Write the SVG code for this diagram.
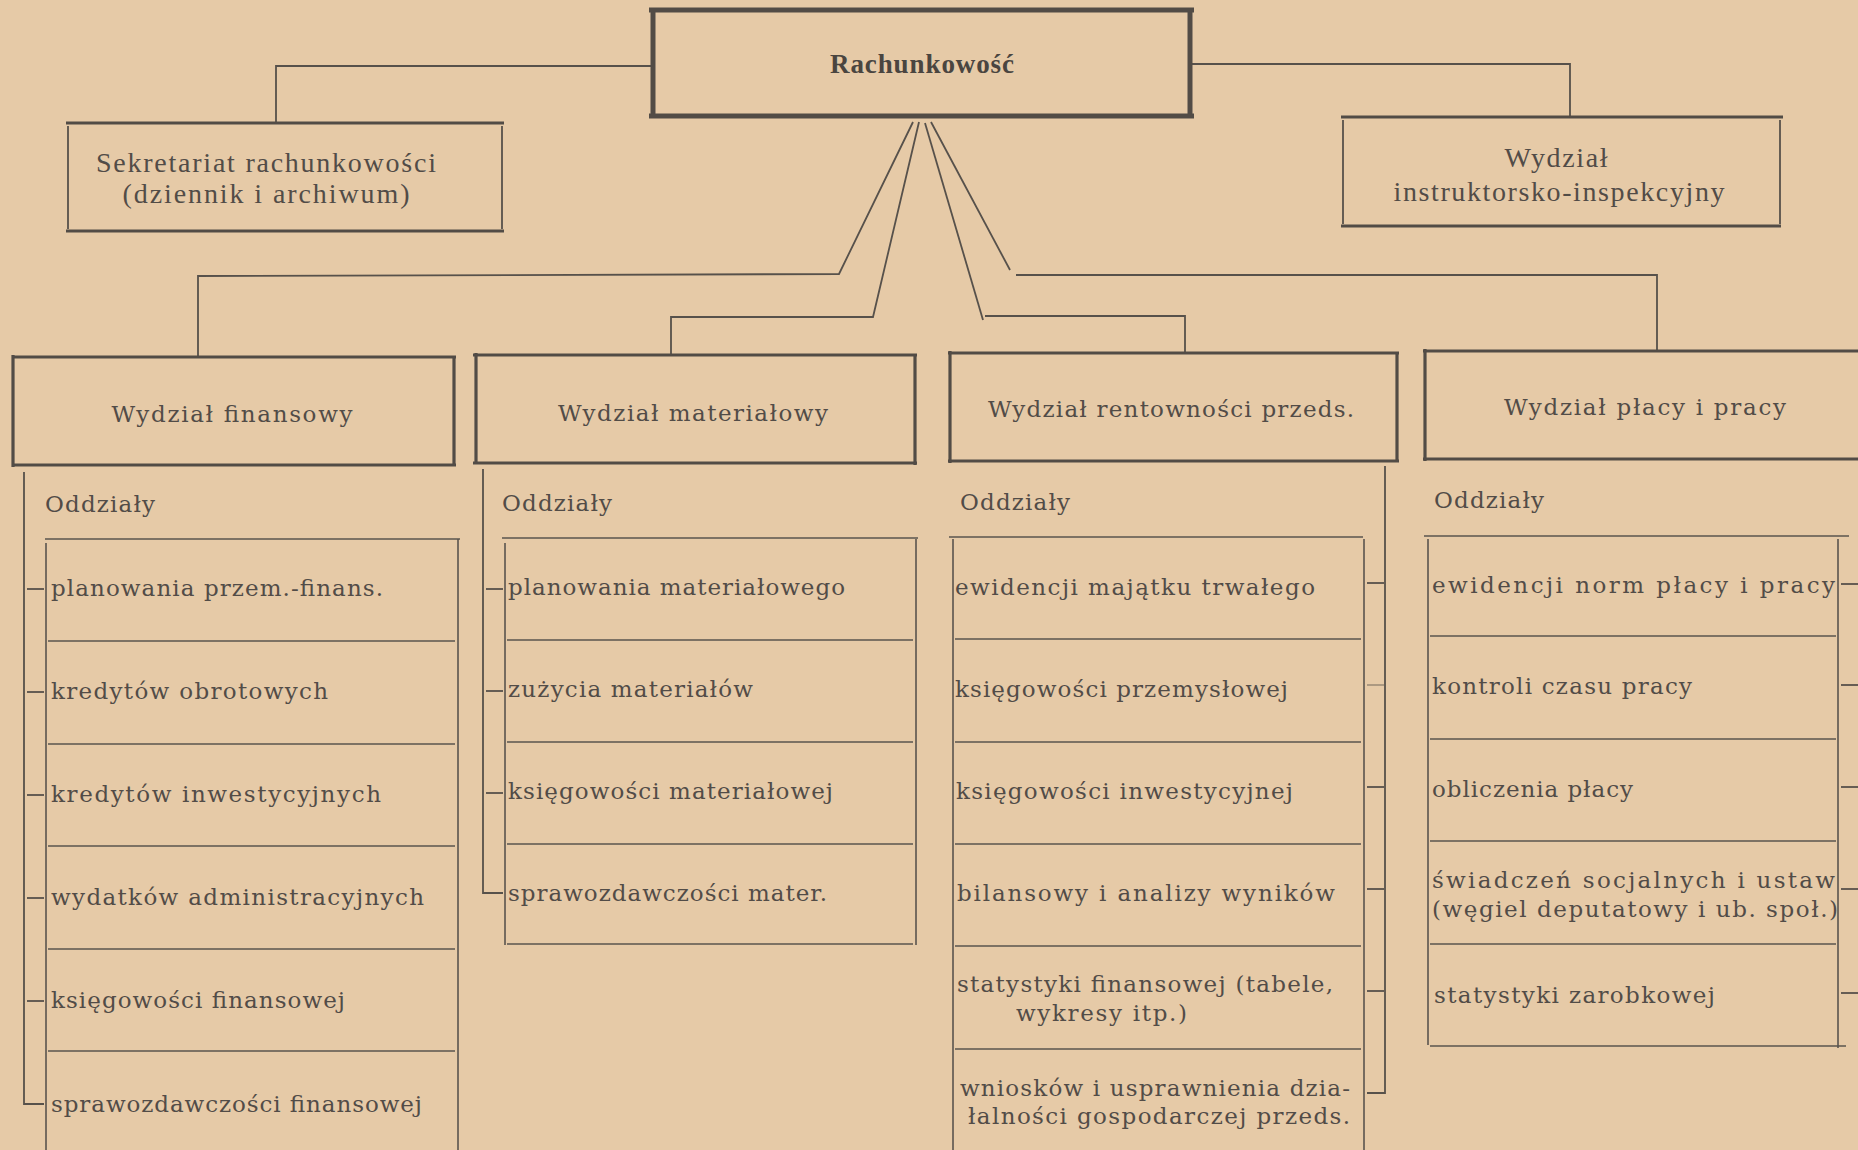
<svg xmlns="http://www.w3.org/2000/svg" width="1858" height="1150" viewBox="0 0 1858 1150">
<style>
.bg{fill:#e6caa7}
.ln{stroke:#57514b;stroke-width:1.8;fill:none}
.tl{stroke:#5a544e;stroke-width:1.6;fill:none}
.bx{stroke:#524c46;stroke-width:3.2;fill:none}
.bxh{stroke:#524c46;stroke-width:5;fill:none}
.t{font-family:"DejaVu Serif","Liberation Serif",serif;font-size:23px;fill:#524c47}
.s{font-family:"Liberation Serif","DejaVu Serif",serif;font-size:28px;fill:#524c47}
.h{font-family:"Liberation Serif","DejaVu Serif",serif;font-size:27px;font-weight:bold;fill:#4a4540}
.c{text-anchor:middle}
</style>
<rect class="bg" x="0" y="0" width="1858" height="1150"/>

<g id="connectors">
  <polyline class="ln" points="653,66 276,66 276,122"/>
  <polyline class="ln" points="1191,64 1570,64 1570,116"/>
  <polyline class="ln" points="913,122 839,274 198,276 198,356"/>
  <polyline class="ln" points="919,122 873,317 671,317 671,354"/>
  <polyline class="ln" points="925,123 983,320"/>
  <polyline class="ln" points="985,316 1185,316 1185,353"/>
  <polyline class="ln" points="931,122 1010,270"/>
  <polyline class="ln" points="1016,275 1657,275 1657,351"/>
  <polyline class="ln" points="24,472 24,1104 44,1104"/>
  <line class="ln" x1="27" y1="589" x2="44" y2="589"/>
  <line class="ln" x1="27" y1="692" x2="44" y2="692"/>
  <line class="ln" x1="27" y1="795" x2="44" y2="795"/>
  <line class="ln" x1="27" y1="898" x2="44" y2="898"/>
  <line class="ln" x1="27" y1="1001" x2="44" y2="1001"/>
  <polyline class="ln" points="483,469 483,893 503,893"/>
  <line class="ln" x1="486" y1="589" x2="503" y2="589"/>
  <line class="ln" x1="486" y1="691" x2="503" y2="691"/>
  <line class="ln" x1="486" y1="793" x2="503" y2="793"/>
  <polyline class="ln" points="1385,466 1385,1093 1367,1093"/>
  <line class="ln" x1="1367" y1="583" x2="1384" y2="583"/>
  <line class="ln" x1="1367" y1="685" x2="1384" y2="685" opacity="0.45"/>
  <line class="ln" x1="1367" y1="787" x2="1384" y2="787"/>
  <line class="ln" x1="1367" y1="889" x2="1384" y2="889"/>
  <line class="ln" x1="1367" y1="991" x2="1384" y2="991"/>
  <line class="ln" x1="1841" y1="584" x2="1858" y2="584"/>
  <line class="ln" x1="1841" y1="685" x2="1858" y2="685"/>
  <line class="ln" x1="1841" y1="787" x2="1858" y2="787"/>
  <line class="ln" x1="1841" y1="889" x2="1858" y2="889"/>
  <line class="ln" x1="1841" y1="993" x2="1858" y2="993"/>
</g>

<g id="rachunkowosc">
  <line class="bxh" x1="649" y1="10" x2="1194" y2="10"/>
  <line class="bxh" x1="649" y1="116" x2="1194" y2="116"/>
  <line class="bxh" x1="653" y1="10" x2="653" y2="116"/>
  <line class="bxh" x1="1190" y1="10" x2="1190" y2="116"/>
  <text class="h c" x="922" y="73" textLength="184">Rachunkowość</text>
</g>

<g id="sekretariat">
  <line class="bx" x1="66" y1="123" x2="504" y2="123"/>
  <line class="bx" x1="66" y1="231" x2="504" y2="231"/>
  <line class="ln" x1="68" y1="126" x2="68" y2="229" stroke-width="2.4"/>
  <line class="ln" x1="502" y1="126" x2="502" y2="229" stroke-width="2.4"/>
  <text class="s c" x="266" y="172" textLength="340">Sekretariat rachunkowości</text>
  <text class="s c" x="266" y="203" textLength="287">(dziennik i archiwum)</text>
</g>

<g id="instruktorsko">
  <line class="bx" x1="1341" y1="117" x2="1783" y2="117"/>
  <line class="bx" x1="1341" y1="226" x2="1781" y2="226"/>
  <line class="ln" x1="1343" y1="120" x2="1343" y2="224" stroke-width="2.4"/>
  <line class="ln" x1="1780" y1="120" x2="1780" y2="224" stroke-width="2.4"/>
  <text class="s c" x="1556" y="167" textLength="103">Wydział</text>
  <text class="s c" x="1559" y="201" textLength="331">instruktorsko-inspekcyjny</text>
</g>

<g id="wydzial-finansowy">
  <line class="bx" x1="12" y1="357" x2="456" y2="357"/>
  <line class="bx" x1="12" y1="465" x2="456" y2="465"/>
  <line class="bx" x1="13" y1="355" x2="13" y2="467"/>
  <line class="bx" x1="454" y1="357" x2="454" y2="465"/>
  <text class="t c" x="232" y="422" textLength="241">Wydział finansowy</text>
</g>
<g id="oddzialy-finansowy">
  <text class="t" x="45" y="512" textLength="110">Oddziały</text>
  <line class="tl" x1="45" y1="539" x2="460" y2="539"/>
  <line class="tl" x1="46" y1="543" x2="46" y2="1150"/>
  <line class="tl" x1="458" y1="539" x2="458" y2="1150"/>
  <line class="tl" x1="48" y1="641" x2="455" y2="641"/>
  <line class="tl" x1="48" y1="744" x2="455" y2="744"/>
  <line class="tl" x1="48" y1="846" x2="455" y2="846"/>
  <line class="tl" x1="48" y1="949" x2="455" y2="949"/>
  <line class="tl" x1="48" y1="1051" x2="455" y2="1051"/>
  <g id="fin-1"><text class="t" x="51" y="596" textLength="332">planowania przem.-finans.</text></g>
  <g id="fin-2"><text class="t" x="51" y="699" textLength="277">kredytów obrotowych</text></g>
  <g id="fin-3"><text class="t" x="51" y="802" textLength="330">kredytów inwestycyjnych</text></g>
  <g id="fin-4"><text class="t" x="51" y="905" textLength="373">wydatków administracyjnych</text></g>
  <g id="fin-5"><text class="t" x="51" y="1008" textLength="294">księgowości finansowej</text></g>
  <g id="fin-6"><text class="t" x="51" y="1112" textLength="371">sprawozdawczości finansowej</text></g>
</g>

<g id="wydzial-materialowy">
  <line class="bx" x1="473" y1="355" x2="917" y2="355"/>
  <line class="bx" x1="473" y1="463" x2="917" y2="463"/>
  <line class="bx" x1="476" y1="353" x2="476" y2="463"/>
  <line class="bx" x1="915" y1="355" x2="915" y2="465"/>
  <text class="t c" x="693" y="421" textLength="270">Wydział materiałowy</text>
</g>
<g id="oddzialy-materialowy">
  <text class="t" x="502" y="511" textLength="110">Oddziały</text>
  <line class="tl" x1="502" y1="538" x2="918" y2="538"/>
  <line class="tl" x1="505" y1="543" x2="505" y2="945"/>
  <line class="tl" x1="916" y1="539" x2="916" y2="945"/>
  <line class="tl" x1="507" y1="640" x2="913" y2="640"/>
  <line class="tl" x1="507" y1="742" x2="913" y2="742"/>
  <line class="tl" x1="507" y1="844" x2="913" y2="844"/>
  <line class="tl" x1="507" y1="944" x2="913" y2="944"/>
  <g id="mat-1"><text class="t" x="508" y="595" textLength="337">planowania materiałowego</text></g>
  <g id="mat-2"><text class="t" x="508" y="697" textLength="245">zużycia materiałów</text></g>
  <g id="mat-3"><text class="t" x="508" y="799" textLength="325">księgowości materiałowej</text></g>
  <g id="mat-4"><text class="t" x="508" y="901" textLength="319">sprawozdawczości mater.</text></g>
</g>

<g id="wydzial-rentownosci">
  <line class="bx" x1="948" y1="353" x2="1399" y2="353"/>
  <line class="bx" x1="948" y1="461" x2="1399" y2="461"/>
  <line class="bx" x1="950" y1="351" x2="950" y2="463"/>
  <line class="bx" x1="1397" y1="353" x2="1397" y2="461"/>
  <text class="t c" x="1171" y="417" textLength="366">Wydział rentowności przeds.</text>
</g>
<g id="oddzialy-rentownosci">
  <text class="t" x="960" y="510" textLength="110">Oddziały</text>
  <line class="tl" x1="949" y1="537" x2="1363" y2="537"/>
  <line class="tl" x1="953" y1="539" x2="953" y2="1150"/>
  <line class="tl" x1="1364" y1="539" x2="1364" y2="1150"/>
  <line class="tl" x1="955" y1="639" x2="1361" y2="639"/>
  <line class="tl" x1="955" y1="742" x2="1361" y2="742"/>
  <line class="tl" x1="955" y1="844" x2="1361" y2="844"/>
  <line class="tl" x1="955" y1="946" x2="1361" y2="946"/>
  <line class="tl" x1="955" y1="1049" x2="1361" y2="1049" stroke-width="2.4"/>
  <g id="rent-1"><text class="t" x="955" y="595" textLength="360">ewidencji majątku trwałego</text></g>
  <g id="rent-2"><text class="t" x="955" y="697" textLength="333">księgowości przemysłowej</text></g>
  <g id="rent-3"><text class="t" x="956" y="799" textLength="337">księgowości inwestycyjnej</text></g>
  <g id="rent-4"><text class="t" x="957" y="901" textLength="378">bilansowy i analizy wyników</text></g>
  <g id="rent-5">
    <text class="t" x="957" y="992" textLength="376">statystyki finansowej (tabele,</text>
    <text class="t" x="1016" y="1021" textLength="171">wykresy itp.)</text>
  </g>
  <g id="rent-6">
    <text class="t" x="960" y="1096" textLength="390">wniosków i usprawnienia dzia-</text>
    <text class="t" x="968" y="1124" textLength="382">łalności gospodarczej przeds.</text>
  </g>
</g>

<g id="wydzial-placy">
  <line class="bx" x1="1423" y1="351" x2="1858" y2="351"/>
  <line class="bx" x1="1423" y1="459" x2="1858" y2="459"/>
  <line class="bx" x1="1425" y1="349" x2="1425" y2="461"/>
  <text class="t c" x="1645" y="415" textLength="282">Wydział płacy i pracy</text>
</g>
<g id="oddzialy-placy">
  <text class="t" x="1434" y="508" textLength="110">Oddziały</text>
  <line class="tl" x1="1424" y1="536" x2="1849" y2="536"/>
  <line class="tl" x1="1428" y1="539" x2="1428" y2="1045"/>
  <line class="tl" x1="1838" y1="539" x2="1838" y2="1048"/>
  <line class="tl" x1="1430" y1="636" x2="1836" y2="636"/>
  <line class="tl" x1="1430" y1="739" x2="1836" y2="739"/>
  <line class="tl" x1="1430" y1="841" x2="1836" y2="841"/>
  <line class="tl" x1="1430" y1="944" x2="1836" y2="944"/>
  <line class="tl" x1="1430" y1="1046" x2="1846" y2="1046"/>
  <g id="placy-1"><text class="t" x="1432" y="593" textLength="403">ewidencji norm płacy i pracy</text></g>
  <g id="placy-2"><text class="t" x="1432" y="694" textLength="260">kontroli czasu pracy</text></g>
  <g id="placy-3"><text class="t" x="1432" y="797" textLength="201">obliczenia płacy</text></g>
  <g id="placy-4">
    <text class="t" x="1432" y="888" textLength="403">świadczeń socjalnych i ustaw</text>
    <text class="t" x="1432" y="917" textLength="406">(węgiel deputatowy i ub. społ.)</text>
  </g>
  <g id="placy-5"><text class="t" x="1434" y="1003" textLength="281">statystyki zarobkowej</text></g>
</g>
</svg>
